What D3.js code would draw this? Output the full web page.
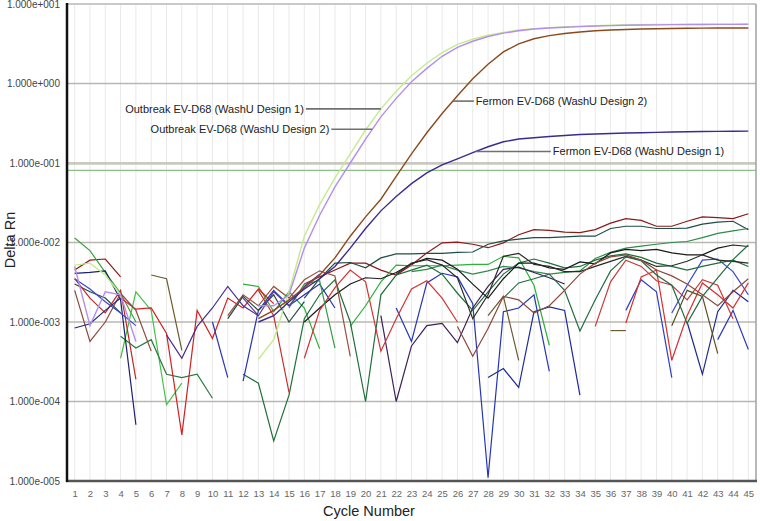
<!DOCTYPE html>
<html>
<head>
<meta charset="utf-8">
<script src="https://cdn.jsdelivr.net/npm/d3@7"></script>
<style>
  body { margin: 0; background: #fff; }
  svg { display: block; font-family: "Liberation Sans", Arial, sans-serif; }
</style>
</head>
<body>
<svg id="chart" width="760" height="521"></svg>
<script>
// place values read off the picture into a 45-cycle array (null = no point drawn)
function seg(start, vals) {
  const a = new Array(45).fill(null);
  vals.forEach((v, i) => { a[start - 1 + i] = v; });
  return a;
}

const cycles = d3.range(1, 46);
const yTickValues = [1e-5, 1e-4, 1e-3, 1e-2, 1e-1, 1e0, 1e1];
const thresholdGray = 0.1;
const thresholdGreen = 0.081;

// amplification curves
const outbreakD1 = seg(1, [5.2e-3, 5.5e-3, 3.9e-3, 2.2e-3, null, null, null, null, null, null,
  null, null, 3.4e-4, 6.0e-4, 2.4e-3, 1.2e-2, 3.0e-2, 6.5e-2, 0.13, 0.26,
  0.48, 0.80, 1.25, 1.80, 2.45, 3.1, 3.6, 4.05, 4.4, 4.7,
  4.9, 5.05, 5.15, 5.25, 5.33, 5.4, 5.45, 5.5, 5.52, 5.54,
  5.55, 5.56, 5.57, 5.57, 5.58]);
const outbreakD2 = seg(1, [5.0e-3, 9.0e-4, 2.4e-3, 2.2e-3, 5.7e-4, null, null, null, null, null,
  null, null, 1.6e-3, 1.6e-3, 2.2e-3, 8.5e-3, 2.2e-2, 5.0e-2, 0.10, 0.20,
  0.38, 0.65, 1.05, 1.55, 2.2, 2.85, 3.4, 3.9, 4.3, 4.6,
  4.85, 5.0, 5.1, 5.2, 5.28, 5.34, 5.4, 5.44, 5.47, 5.5,
  5.52, 5.53, 5.54, 5.55, 5.56]);
const fermonD2 = seg(13, [1.1e-3, 1.4e-3, 1.9e-3, 2.7e-3, 3.9e-3, 6.4e-3, 1.2e-2, 2.1e-2,
  3.5e-2, 6.8e-2, 0.13, 0.24, 0.42, 0.70, 1.15, 1.75, 2.5, 3.15,
  3.65, 4.0, 4.25, 4.45, 4.6, 4.7, 4.78, 4.84, 4.88, 4.92,
  4.95, 4.97, 4.99, 5.0, 5.0]);
const fermonD1 = seg(13, [1.0e-3, 1.2e-3, 1.8e-3, 2.6e-3, 3.5e-3, 5.0e-3, 8.5e-3, 1.5e-2,
  2.5e-2, 3.8e-2, 5.5e-2, 7.5e-2, 9.5e-2, 0.113, 0.135, 0.16, 0.185, 0.20,
  0.208, 0.215, 0.222, 0.228, 0.232, 0.235, 0.238, 0.24, 0.243, 0.245,
  0.247, 0.249, 0.25, 0.251, 0.252]);

const ampSeries = [outbreakD1, outbreakD2, fermonD2, fermonD1];
const ampColors = ["#c3ec8c", "#b28ef0", "#8b4a1c", "#3b2a90"];
const ampLabels = ["Outbreak EV-D68 (WashU Design 1)", "Outbreak EV-D68 (WashU Design 2)",
  "Fermon EV-D68 (WashU Design 2)", "Fermon EV-D68 (WashU Design 1)"];
const labelCycle = [21, 20.44, 25.7, 27.2];

// background / negative samples
const n01 = seg(1, [4.5e-3, 6.0e-3, 6.2e-3, 3.7e-3]);
const n01b = seg(16, [3.0e-3, 3.7e-3, 4.5e-3, 5.5e-3, 5.5e-3, 4.5e-3, 3.9e-3, 5.2e-3, 7.4e-3, 9.9e-3,
  1.01e-2, 9.5e-3, 8.6e-3, 9.9e-3, 1.25e-2, 1.45e-2, 1.42e-2, 1.35e-2, 1.33e-2, 1.45e-2,
  1.75e-2, 2.0e-2, 1.9e-2, 1.6e-2, 1.6e-2, 1.85e-2, 2.1e-2, 2.05e-2, 2.0e-2, 2.3e-2]);
const n02 = seg(1, [3.0e-3, 2.4e-3, 2.0e-3, 1.3e-3]);
const n02b = seg(16, [2.0e-3, 3.5e-3, 5.5e-3, 5.6e-3, 4.8e-3, 6.4e-3, 7.2e-3, 7.2e-3, 7.3e-3, 7.3e-3,
  7.5e-3, 7.6e-3, 9.5e-3, 1.05e-2, 1.1e-2, 1.15e-2, 1.15e-2, 1.18e-2, 1.2e-2, 1.2e-2,
  1.5e-2, 1.6e-2, 1.6e-2, 1.5e-2, 1.5e-2, 1.52e-2, 1.7e-2, 1.8e-2, 1.85e-2, 1.45e-2]);
const n03 = seg(12, [3.0e-3, 2.8e-3, 1.35e-3, 2.4e-3, 1.5e-3, 4.6e-4, null, 8.8e-4, 1.6e-3,
  3.2e-3, 5.2e-3, 5.1e-3, 5.1e-3, 5.1e-3, 5.2e-3, 5.3e-3, 5.3e-3, 6.7e-3, 6.4e-3, 2.9e-3, 5.1e-4]);
const n04 = seg(23, [4.3e-3, 4.6e-3, 5.2e-3, 4.5e-3, 4.0e-3, 4.4e-3, 5.0e-3, 4.8e-3,
  4.3e-3, 4.0e-3, 4.2e-3, 4.4e-3, 6.3e-3, 7.5e-3, 8.5e-3, 9.0e-3, 9.5e-3, 1.0e-2,
  1.03e-2, 1.15e-2, 1.3e-2, 1.4e-2, 1.5e-2]);
const n05 = seg(22, [1.5e-3, 5.7e-4, 3.1e-3, 4.1e-3, 3.7e-3, 1.7e-3, 1.1e-5, 1.35e-3, 1.5e-3, 2.2e-3, 2.4e-4]);
const n06 = seg(28, [2.0e-4, 2.6e-4, 1.5e-4, 1.35e-3, 1.55e-3, 1.4e-3, 1.2e-4]);
const n07 = seg(37, [1.4e-3, 3.4e-3, 2.4e-3, 2.0e-4]);
const n08 = seg(40, [1.3e-3, 2.9e-3, 6.0e-3, 6.2e-3, 4.3e-3, 2.2e-3]);
const n09 = seg(41, [1.0e-3, 2.2e-4, 1.35e-3, 2.5e-3, 1.8e-3]);
const n10 = seg(43, [6.0e-4, 1.4e-3, 4.5e-4]);
const n11 = seg(37, [9.7e-4, 3.7e-3, 4.5e-3, 3.3e-4, 1.2e-3, 3.1e-3, 2.2e-3, 1.5e-3, 3.1e-3]);
const n12 = seg(35, [8.8e-4, 3.2e-3, 6.0e-3, 5.0e-3, 3.3e-3, 2.9e-3, 1.9e-3, 3.4e-3, 2.9e-3, 1.1e-3]);
const n13 = seg(40, [9.0e-4, 2.5e-3, 2.1e-3, 4.0e-4]);
const n14 = seg(36, [7.8e-4, 7.8e-4]);
const n15 = seg(28, [1.2e-3, 2.1e-3, 3.3e-4]);
const n16 = seg(21, [1.2e-3, 1.0e-4, 5.0e-4, 9.0e-4, 9.6e-4, 5.5e-4, 1.5e-3, 2.8e-3, 4.6e-3, 4.9e-3,
  4.2e-3, 3.6e-3, 3.0e-3]);
const n17 = seg(12, [2.2e-4, 1.7e-4, 3.2e-5, 1.2e-4, 1.1e-3, 2.2e-3, 3.4e-3, 1.0e-3, 1.0e-4,
  2.2e-3, 3.9e-3, 4.5e-3, 5.2e-3, 4.0e-3, 2.3e-3, 1.4e-3, 2.4e-3, 4.0e-3, 5.5e-3,
  6.2e-3, 5.5e-3, 4.8e-3, 5.0e-3, 6.0e-3, 6.8e-3, 7.2e-3, 6.5e-3, 5.5e-3, 5.0e-3,
  4.5e-3, 5.0e-3, 5.5e-3, 6.0e-3, 5.0e-3]);
const n18 = seg(1, [1.14e-2, 7.9e-3, 4.2e-3, 2.3e-3, 1.0e-3]);
const n19 = seg(4, [3.5e-4, 2.4e-3, 1.4e-3, 9.1e-5, 1.7e-4]);
const n20 = seg(4, [6.6e-4, 4.7e-4, 6.0e-4, 2.2e-4, 2.0e-4, 2.2e-4, 1.1e-4]);
const n21 = seg(4, [2.0e-3, 1.45e-3, 1.5e-3, 7.2e-4, 3.8e-5, 1.4e-3, 6.2e-4, 2.0e-3, 1.5e-3, 2.6e-3, 1.7e-3]);
const n22 = seg(1, [3.5e-3, 2.0e-3, 1.3e-3, 2.5e-3, 1.9e-4]);
const n23 = seg(1, [4.1e-3, 4.2e-3, 4.4e-3, 1.9e-3, 5.1e-5]);
const n24 = seg(7, [6.9e-4, 3.5e-4, 8.8e-4, 1.5e-3, 2.8e-3, 1.6e-3, 1.2e-3]);
const n25 = seg(6, [3.9e-3, 3.5e-3, 4.4e-4]);
const n26 = seg(10, [1.0e-3, 2.0e-4]);
const n27 = seg(12, [1.8e-4, 1.4e-3, 2.5e-3, 1.6e-3, 2.2e-3, 3.0e-3, 1.5e-3]);
const n28 = seg(1, [2.5e-3, 5.7e-4, 1.0e-3, 2.3e-3, 1.4e-3, 4.3e-4]);
const n29 = seg(16, [1.0e-3, 1.5e-3, 2.2e-3, 3.0e-3, 3.6e-3, 3.5e-3, 4.2e-3, 5.4e-3, 6.3e-3, 6.0e-3,
  4.6e-3, 3.0e-3, 2.0e-3, 3.5e-3, 5.5e-3, 5.5e-3, 4.8e-3, 4.6e-3, 5.7e-3, 5.4e-3,
  7.4e-3, 8.2e-3, 7.9e-3, 8.2e-3, 7.4e-3, 7.0e-3, 7.0e-3, 8.5e-3, 9.3e-3, 8.9e-3]);
const n30 = seg(22, [4.0e-3, 5.5e-3, 6.1e-3, 5.2e-3, 3.6e-3, 1.1e-3, 2.2e-3, 6.7e-3, 7.3e-3,
  5.3e-3, 5.0e-3, 4.3e-3, 4.3e-3, 5.0e-3, 5.8e-3, 6.7e-3, 6.0e-3, 5.0e-3, 5.1e-3,
  5.8e-3, 7.0e-3, 6.0e-3, 5.8e-3, 5.5e-3]);
const n31 = seg(29, [2.0e-3, 3.1e-3, 3.5e-3, 4.0e-3, 2.5e-3, 7.7e-4, 1.9e-3, 4.4e-3, 6.6e-3, 5.9e-3,
  3.9e-3, 2.9e-3, 9.6e-4, 2.1e-3, 3.6e-3, 6.1e-3, 9.3e-3]);
const n32 = seg(26, [8.8e-4, 3.7e-4, 8.3e-4, 2.1e-3, 1.9e-3, 1.3e-3, 1.6e-3, 2.5e-3, 4.0e-3, 5.5e-3,
  6.6e-3, 7.0e-3, 6.0e-3, 4.5e-3, 3.8e-3, 3.0e-3, 2.2e-3, 1.6e-3, 2.4e-3, 3.5e-3]);
const n33 = seg(13, [2.5e-3, 1.2e-3, 1.3e-4]);
const n34 = seg(16, [3.5e-4, 1.4e-3, 2.7e-3, 4.5e-3, 3.2e-3, 4.3e-4, 1.1e-3, 2.6e-3, 3.3e-3, 2.0e-3, 1.0e-3]);
const n35 = seg(11, [1.2e-3, 2.2e-3, 1.6e-3, 2.8e-3, 2.0e-3, 3.4e-3, 4.4e-3, 3.8e-3, 3.7e-4]);
const n36 = seg(15, [1.5e-3, 3.0e-3, 3.3e-3, 4.7e-4]);
const n37 = seg(11, [1.1e-3, 2.1e-3, 1.4e-3, 2.2e-3, 1.0e-3, 1.8e-3]);
const n38 = seg(1, [8.4e-4, 9.5e-4, 1.4e-3, 2.0e-3]);
const n39 = seg(1, [3.5e-3, 2.6e-3, 1.8e-3, 1.3e-3, 9.0e-4]);
const n40 = seg(12, [2.0e-3, 1.2e-3, 2.4e-3, 1.6e-3, 2.8e-3, 4.0e-3]);

const noiseSeries = [n01, n01b, n02, n02b, n03, n04, n05, n06, n07, n08, n09, n10, n11, n12, n13, n14,
  n15, n16, n17, n18, n19, n20, n21, n22, n23, n24, n25, n26, n27, n28, n29, n30, n31, n32, n33,
  n34, n35, n36, n37, n38, n39, n40];
const noiseColors = ["#8b1a1a", "#8b1a1a", "#1e4d44", "#1e4d44", "#2fb03c", "#2e8b4a", "#2535b5", "#1c2a9a",
  "#2f3fc5", "#3a48c8", "#1e2890", "#2a3ab8", "#d43030", "#c83a3a", "#5e4f22", "#6b5a30",
  "#6b5a30", "#3b1f55", "#1f6e3a", "#3ca03c", "#44c044", "#2a7a40", "#d42020", "#c02828", "#1a1f70",
  "#4a2a8a", "#6b5a2a", "#2a35b5", "#2535b0", "#8b4a3a", "#1a1a1a", "#2a2a2a", "#226b45", "#8b4a3a",
  "#c83030", "#d03535", "#9a5040", "#3a9a4a", "#204a40", "#1f2a80", "#3a4ac8", "#5a3a9a"];

const margin = { top: 4, right: 4, bottom: 40, left: 67 };
const W = 760, H = 521;
const svg = d3.select("#chart");

const x = d3.scaleLinear().domain([0.5, 45.5]).range([margin.left, W - margin.right]);
const y = d3.scaleLog().domain([1e-5, 10]).range([H - margin.bottom, margin.top]);

// vertical grid
svg.append("g").selectAll("line").data(cycles).enter().append("line")
  .attr("x1", d => x(d)).attr("x2", d => x(d))
  .attr("y1", y(10)).attr("y2", y(1e-5))
  .attr("stroke", "#e9e9e9").attr("stroke-width", 1);

// horizontal decade grid
svg.append("g").selectAll("line").data(yTickValues).enter().append("line")
  .attr("x1", x(0.5)).attr("x2", x(45.5))
  .attr("y1", d => y(d)).attr("y2", d => y(d))
  .attr("stroke", "#b8b8ae").attr("stroke-width", 1.5);

// thresholds
svg.append("line").attr("x1", x(0.5)).attr("x2", x(45.5))
  .attr("y1", y(thresholdGray) + 1).attr("y2", y(thresholdGray) + 1)
  .attr("stroke", "#c8c8c0").attr("stroke-width", 1.5);
svg.append("line").attr("x1", x(0.5)).attr("x2", x(45.5))
  .attr("y1", y(thresholdGreen)).attr("y2", y(thresholdGreen))
  .attr("stroke", "#8fbf86").attr("stroke-width", 1.2);

svg.append("clipPath").attr("id", "plot").append("rect")
  .attr("x", x(0.5)).attr("y", y(10) - 2)
  .attr("width", x(45.5) - x(0.5)).attr("height", y(1e-5) - y(10) + 2);

const line = d3.line()
  .defined(d => d != null)
  .x((d, i) => x(cycles[i]))
  .y(d => y(d));

const plot = svg.append("g").attr("clip-path", "url(#plot)");

plot.selectAll(".noise").data(noiseSeries).enter().append("path")
  .attr("class", "noise")
  .attr("d", d => line(d))
  .attr("fill", "none")
  .attr("stroke", (d, i) => noiseColors[i])
  .attr("stroke-width", 1.2);

plot.selectAll(".amp").data(ampSeries).enter().append("path")
  .attr("class", "amp")
  .attr("d", d => line(d))
  .attr("fill", "none")
  .attr("stroke", (d, i) => ampColors[i])
  .attr("stroke-width", 1.4);

// value on a curve at a fractional cycle (log interpolation)
function valueAt(series, c) {
  const i = Math.floor(c), f = c - i;
  const a = series[i - 1], b = series[i];
  return Math.pow(10, Math.log10(a) + f * (Math.log10(b) - Math.log10(a)));
}

const leaderLen = [75, 41, 21, 75];
const leaderSide = [-1, -1, 1, 1];
ampSeries.forEach((s, i) => {
  const ax = x(labelCycle[i]), ay = y(valueAt(s, labelCycle[i]));
  const ex = ax + leaderSide[i] * leaderLen[i];
  svg.append("line").attr("x1", ax).attr("x2", ex).attr("y1", ay).attr("y2", ay)
    .attr("stroke", "#707070").attr("stroke-width", 1.6);
  svg.append("text")
    .attr("x", ex + leaderSide[i] * 2).attr("y", ay)
    .attr("dy", "0.35em")
    .attr("text-anchor", leaderSide[i] < 0 ? "end" : "start")
    .attr("font-size", "11px").attr("fill", "#222")
    .text(ampLabels[i]);
});

// frame
svg.append("line").attr("x1", x(0.5)).attr("x2", x(45.5)).attr("y1", y(10)).attr("y2", y(10))
  .attr("stroke", "#c8c8c8").attr("stroke-width", 1.5);
svg.append("line").attr("x1", x(45.5)).attr("x2", x(45.5)).attr("y1", y(10)).attr("y2", y(1e-5))
  .attr("stroke", "#a0a0a0").attr("stroke-width", 1.5);
svg.append("line").attr("x1", x(0.5) - 1).attr("x2", x(45.5) + 1).attr("y1", y(1e-5)).attr("y2", y(1e-5))
  .attr("stroke", "#555").attr("stroke-width", 2.5);
svg.append("line").attr("x1", x(0.5)).attr("x2", x(0.5)).attr("y1", y(10) - 1).attr("y2", y(1e-5) + 1)
  .attr("stroke", "#111").attr("stroke-width", 2.5);

// axes
const fmt = d => {
  const e = Math.round(Math.log10(d));
  return "1.000e" + (e < 0 ? "-" : "+") + String(Math.abs(e)).padStart(3, "0");
};
const yAxis = svg.append("g")
  .attr("transform", `translate(${x(0.5) - 4},0)`)
  .call(d3.axisLeft(y).tickValues(yTickValues).tickFormat(fmt).tickSize(0).tickPadding(3));
yAxis.select(".domain").remove();
yAxis.selectAll("text").attr("font-size", "10px").attr("fill", "#444")
  .attr("font-family", "Liberation Sans, Arial, sans-serif");

const xAxis = svg.append("g")
  .attr("transform", `translate(0,${y(1e-5) + 6})`)
  .call(d3.axisBottom(x).tickValues(cycles).tickFormat(d3.format("d")).tickSize(0).tickPadding(3));
xAxis.select(".domain").remove();
xAxis.selectAll("text").attr("font-size", "9.5px").attr("fill", "#666")
  .attr("font-family", "Liberation Sans, Arial, sans-serif");

svg.append("text")
  .attr("x", 369).attr("y", 516)
  .attr("text-anchor", "middle")
  .attr("font-size", "14.5px").attr("fill", "#222")
  .text("Cycle Number");

svg.append("text")
  .attr("transform", `translate(15,240) rotate(-90)`)
  .attr("text-anchor", "middle")
  .attr("font-size", "14.5px").attr("fill", "#222")
  .text("Delta Rn");
</script>
</body>
</html>
